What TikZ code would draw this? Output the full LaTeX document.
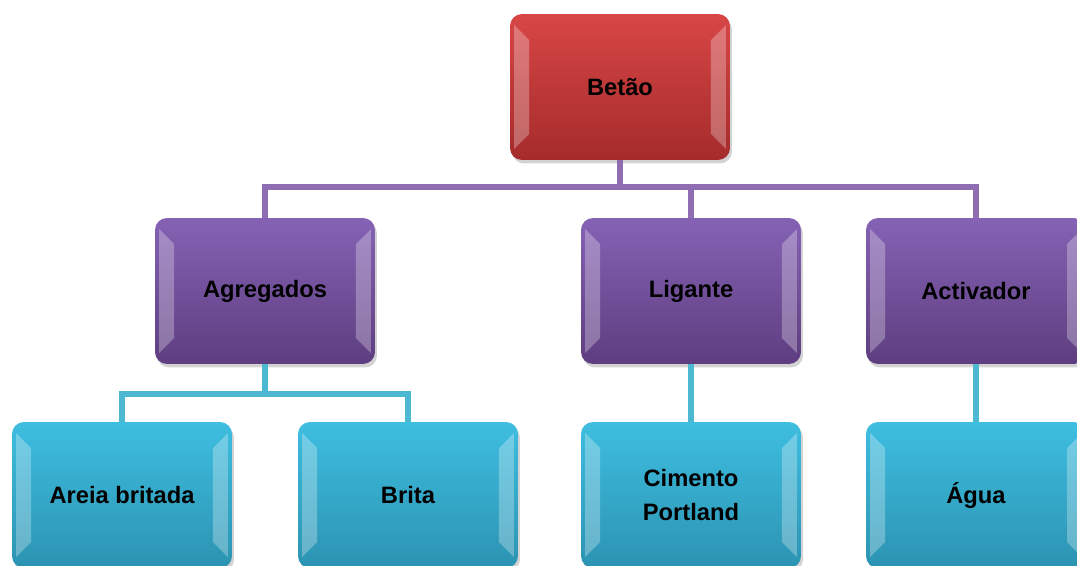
\documentclass[tikz,border=0pt]{standalone}
\usepackage{fontspec}
\setmainfont{Liberation Sans}
\usetikzlibrary{shadows}
\definecolor{rt}{HTML}{D84646}
\definecolor{rb}{HTML}{A52B2B}
\definecolor{pt}{HTML}{8562B4}
\definecolor{pb}{HTML}{5E3E80}
\definecolor{tt}{HTML}{3EBEE0}
\definecolor{tb}{HTML}{2C93B2}
\definecolor{pl}{HTML}{8E6DB3}
\definecolor{tl}{HTML}{4CB8D2}

\begin{document}
\begin{tikzpicture}[x=0.02cm, y=-0.02cm,
	box/.style={rounded corners=0.24cm, minimum width=4.4cm, minimum height=2.92cm,
		font=\fontsize{13.5}{19}\selectfont\bfseries, align=center, text=black,
		drop shadow={opacity=0.35, shadow xshift=0.04cm, shadow yshift=-0.07cm},
		path picture={
			\fill[white,opacity=0.28,sharp corners] (path picture bounding box.north west) ++(0.08cm,-0.22cm)
				-- ++(0,-2.48cm) -- ++(0.3cm,0.3cm) -- ++(0,1.88cm) -- cycle;
			\fill[white,opacity=0.28,sharp corners] (path picture bounding box.north east) ++(-0.08cm,-0.22cm)
				-- ++(0,-2.48cm) -- ++(-0.3cm,0.3cm) -- ++(0,1.88cm) -- cycle;
		}},
	redbox/.style={box, top color=rt, bottom color=rb},
	purplebox/.style={box, top color=pt, bottom color=pb},
	tealbox/.style={box, top color=tt, bottom color=tb},
	plink/.style={pl, line width=3.4pt},
	tlink/.style={tl, line width=3.4pt}]
	% Frame
	\useasboundingbox (0,0) rectangle (1077,565);
	\clip (0,0) rectangle (1077,565);

	% Top level
	\node[redbox] (bet) at (620,87) {Betão};

	% Second level
	\node[purplebox] (agr) at (265,291) {Agregados};
	\node[purplebox] (lig) at (691,291) {Ligante};
	\node[purplebox] (act) at (976,291) {Activador};

	% Third level
	\node[tealbox] (are) at (122,495) {Areia britada};
	\node[tealbox] (bri) at (408,495) {Brita};
	\node[tealbox] (cim) at (691,495) {Cimento\\Portland};
	\node[tealbox] (agu) at (976,495) {Água};

	% Links
	\draw[plink] (bet.south) -- ++(0,27) -| (agr.north);
	\draw[plink] (bet.south) -- ++(0,27) -| (lig.north);
	\draw[plink] (bet.south) -- ++(0,27) -| (act.north);
	\draw[tlink] (agr.south) -- ++(0,30) -| (are.north);
	\draw[tlink] (agr.south) -- ++(0,30) -| (bri.north);
	\draw[tlink] (lig.south) -- (cim.north);
	\draw[tlink] (act.south) -- (agu.north);
\end{tikzpicture}
\end{document}
